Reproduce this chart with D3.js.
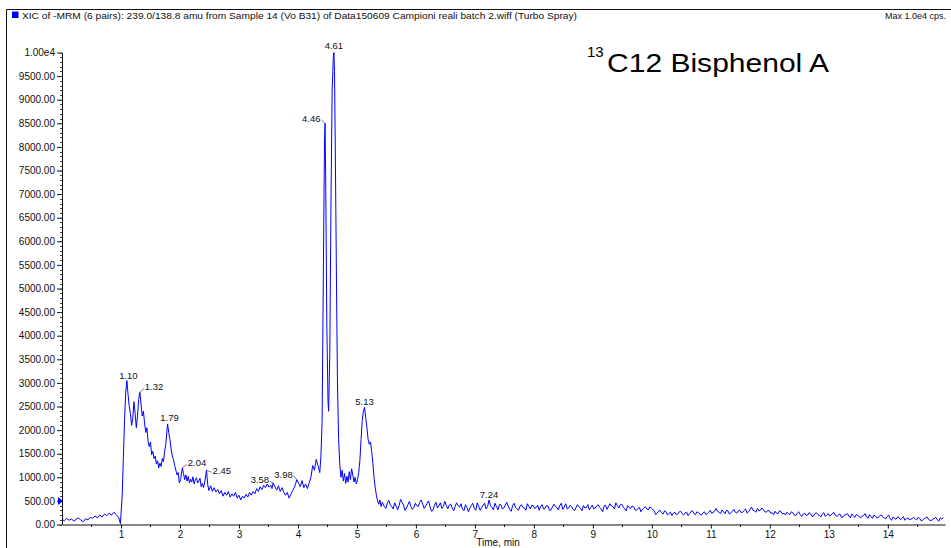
<!DOCTYPE html>
<html><head><meta charset="utf-8">
<script src="https://cdn.jsdelivr.net/npm/d3@7"></script>
<style>
html,body{margin:0;padding:0;background:#fff;}
svg{display:block;font-family:"Liberation Sans",Arial,sans-serif;}
</style></head><body>
<svg id="chart" width="951" height="548"></svg>
<script>
// XIC trace, 239.0/138.8 transition: [retention time (min), intensity (cps)]
const preRise = [[0.00,110],[0.04,80],[0.08,130],[0.12,90],[0.16,120],[0.20,70],[0.24,110],[0.28,140],[0.32,90],[0.36,60],[0.40,120],[0.44,100],[0.48,150],[0.52,130],[0.56,180],[0.60,140],[0.64,200],[0.68,160],[0.72,220],[0.76,190],[0.80,240],[0.84,200],[0.88,260],[0.92,210],[0.96,150],[0.99,20]];

const earlyCluster = [[1.02,600],[1.04,1400],[1.06,2200],[1.08,2800],[1.10,3050],[1.12,2750],[1.14,2500],[1.16,2350],[1.18,2100],[1.20,2250],[1.22,2600],[1.24,2350],[1.26,2050],[1.28,2300],[1.30,2650],[1.32,2800],[1.34,2550],[1.36,2300],[1.38,2400],[1.40,2150],[1.42,1950],[1.44,2050],[1.46,1750],[1.48,1650],[1.50,1750],[1.52,1480],[1.54,1550],[1.56,1400],[1.58,1450],[1.60,1280],[1.62,1350],[1.64,1200],[1.66,1300],[1.68,1230],[1.70,1400],[1.72,1330],[1.74,1550],[1.76,1700],[1.78,2000],[1.79,2130],[1.81,1950],[1.83,1800],[1.85,1600],[1.87,1450],[1.89,1380],[1.91,1250],[1.93,1150],[1.95,1050],[1.97,1100],[1.99,880],[2.01,950],[2.04,1200],[2.06,1080],[2.08,950],[2.10,1050],[2.12,920],[2.14,1020],[2.16,880],[2.18,960],[2.20,900],[2.22,1010],[2.24,860],[2.26,950],[2.28,990],[2.30,880],[2.32,920],[2.34,980],[2.36,800],[2.38,870],[2.40,780],[2.42,900],[2.45,1150],[2.47,850],[2.49,720]];

const midRegion = [[2.52,820],[2.55,700],[2.58,780],[2.61,690],[2.64,740],[2.67,650],[2.70,720],[2.73,600],[2.76,680],[2.79,620],[2.82,700],[2.85,580],[2.88,650],[2.91,600],[2.94,680],[2.97,560],[3.00,620],[3.03,520],[3.06,600],[3.09,560],[3.12,640],[3.15,580],[3.18,680],[3.21,620],[3.24,700],[3.27,650],[3.30,760],[3.33,700],[3.36,800],[3.39,740],[3.42,830],[3.45,780],[3.48,860],[3.51,790],[3.54,830],[3.56,760],[3.58,880],[3.61,800],[3.64,730],[3.67,820],[3.70,700],[3.73,780],[3.76,680],[3.79,620],[3.82,680],[3.85,560],[3.88,640],[3.91,720],[3.94,790],[3.96,860],[3.98,950],[4.01,880],[4.04,800],[4.07,930],[4.10,780],[4.13,860],[4.16,760],[4.19,880],[4.22,1000],[4.25,1250],[4.28,1150],[4.31,1380],[4.34,1250],[4.37,1100],[4.39,1450]];

const mainPeaks = [[4.41,2200],[4.43,5200],[4.45,8100],[4.46,8500],[4.47,7400],[4.49,4200],[4.51,2600],[4.52,2400],[4.54,3600],[4.56,6800],[4.58,9200],[4.60,9900],[4.61,10000],[4.62,9600],[4.63,8400],[4.65,5600],[4.67,3000],[4.69,1800],[4.71,1250]];

const shoulder = [[4.73,1000],[4.75,1150],[4.77,920],[4.79,1080],[4.81,870],[4.83,1020],[4.85,900],[4.87,1120],[4.89,950],[4.91,1180],[4.93,1050],[4.95,900],[4.97,1000],[4.99,860],[5.01,950],[5.03,1100],[5.05,1350],[5.07,1800],[5.09,2200],[5.11,2400],[5.13,2480],[5.15,2250],[5.17,2050],[5.19,1800],[5.21,1700],[5.23,1750],[5.25,1550],[5.27,1300],[5.29,1000],[5.31,780],[5.33,620],[5.35,500],[5.37,430],[5.39,520],[5.41,380],[5.43,470]];

// Late baseline, sampled every 0.025 min from 5.44 min
const tailStart = 5.44, tailStep = 0.025;
const tailValues = [
  440,380,340,450,510,420,380,330,460,390,310,400,530,470,410,300,350,420,490,380,320,360,450,400,380,470,520,430,340,390,450,500,370,280,300,410,470,350,400,460,340,380,490,400,
  330,410,430,350,290,380,460,400,370,440,320,290,420,360,270,350,400,450,340,300,460,380,300,360,410,450,330,380,520,400,360,310,450,380,310,420,420,330,350,410,470,390,320,280,400,450,360,330,300,390,420,360,350,300,440,380,330,410,400,340,
  360,410,300,380,420,330,340,400,390,300,310,370,430,380,360,310,400,450,320,370,440,330,350,410,380,320,300,360,420,380,340,290,400,350,360,420,310,360,410,330,350,390,420,360,330,270,390,410,320,380,440,390,380,330,460,400,350,420,430,370,330,290,400,360,340,390,380,310,300,340,360,270,320,350,380,330,310,370,350,320,
  290,210,240,280,300,250,220,290,270,200,230,260,190,240,260,210,220,270,280,230,200,250,260,190,230,280,290,230,210,270,250,220,200,240,270,210,230,260,300,240,250,290,340,280,260,230,310,270,230,300,290,220,250,280,320,260,240,290,300,250,260,300,330,240,270,320,370,300,290,260,340,290,300,350,320,270,260,300,290,240,
  250,210,280,240,230,290,270,220,240,200,260,230,210,270,250,200,190,240,270,210,170,220,240,190,200,250,230,170,180,230,250,210,190,160,220,250,170,200,230,180,200,240,250,190,170,210,220,150,160,200,210,230,180,140,220,190,150,210,200,160,140,180,190,230,160,130,210,170,130,200,180,140,150,190,200,160,140,120,170,200,
  120,90,160,130,110,160,150,100,130,170,90,120,140,100,110,130,150,120,100,150,130,80,90,120,140,160,110,90,80,120,130,150,100,70,140,110,150];

// Retention times annotated on the trace
const peakLabels = [1.10, 1.32, 1.79, 2.04, 2.45, 3.58, 3.98, 4.46, 4.61, 5.13, 7.24];

// Axis ticks
const yTicks = [0,500,1000,1500,2000,2500,3000,3500,4000,4500,5000,5500,6000,6500,7000,7500,8000,8500,9000,9500,10000];
const yTickLabels = ["0.00","500.00","1000.00","1500.00","2000.00","2500.00","3000.00","3500.00","4000.00","4500.00","5000.00","5500.00","6000.00","6500.00","7000.00","7500.00","8000.00","8500.00","9000.00","9500.00","1.00e4"];
const xTicks = [1,2,3,4,5,6,7,8,9,10,11,12,13,14];

const headerText = "XIC of -MRM (6 pairs): 239.0/138.8 amu from Sample 14 (Vo B31) of Data150609 Campioni reali batch 2.wiff (Turbo Spray)";
const maxText = "Max 1.0e4 cps.";
const axisTitle = "Time, min";

// ---- assemble trace ----
const tail = tailValues.map((v, i) => [Math.round((tailStart + i * tailStep) * 1000) / 1000, v]);
const trace = [].concat(preRise, earlyCluster, midRegion, mainPeaks, shoulder, tail);

const svg = d3.select("#chart");
const ink = "#111";
const traceColor = "#0000ff";

const x = d3.scaleLinear().domain([0, 14.97]).range([62, 945]);
const y = d3.scaleLinear().domain([0, 10000]).range([524.5, 52.5]);

// frame
svg.append("line").attr("x1", 6.5).attr("x2", 951).attr("y1", 9.5).attr("y2", 9.5).attr("stroke", ink);
svg.append("line").attr("x1", 6.5).attr("x2", 6.5).attr("y1", 9.5).attr("y2", 548).attr("stroke", ink);

// header
svg.append("rect").attr("x", 12).attr("y", 11.5).attr("width", 6.5).attr("height", 6.5).attr("fill", "#0000ff");
svg.append("text").attr("x", 22).attr("y", 19).attr("font-size", 9).attr("fill", ink)
  .attr("textLength", 555).attr("lengthAdjust", "spacingAndGlyphs").text(headerText);
svg.append("text").attr("x", 946).attr("y", 19).attr("font-size", 9).attr("fill", ink)
  .attr("text-anchor", "end").text(maxText);

// y axis
const yAxis = svg.append("g").attr("transform", "translate(62,0)")
  .call(d3.axisLeft(y).tickValues(yTicks).tickFormat((d, i) => yTickLabels[i]).tickSize(5).tickSizeOuter(0).tickPadding(2));
yAxis.selectAll("text").attr("font-size", 10).attr("font-family", "Liberation Sans, Arial, sans-serif").attr("fill", ink);
yAxis.selectAll("line,path").attr("stroke", ink);
svg.append("g").selectAll("line").data(d3.range(0, 10001, 100)).join("line")
  .attr("x1", 60).attr("x2", 62).attr("y1", d => Math.round(y(d)) + 0.5).attr("y2", d => Math.round(y(d)) + 0.5)
  .attr("stroke", "#444").attr("stroke-width", 1);

// x axis
const xAxis = svg.append("g").attr("transform", "translate(0,524.5)")
  .call(d3.axisBottom(x).tickValues(xTicks).tickFormat(d3.format("d")).tickSize(4).tickSizeOuter(0).tickPadding(2));
xAxis.selectAll("text").attr("font-size", 10).attr("font-family", "Liberation Sans, Arial, sans-serif").attr("fill", ink);
xAxis.selectAll("line,path").attr("stroke", ink);
svg.append("g").selectAll("line").data(d3.range(0.5, 15, 1)).join("line")
  .attr("x1", d => Math.round(x(d)) + 0.5).attr("x2", d => Math.round(x(d)) + 0.5)
  .attr("y1", 524.5).attr("y2", 527).attr("stroke", ink);
svg.append("text").attr("x", 498).attr("y", 546).attr("text-anchor", "middle")
  .attr("font-size", 10).attr("fill", ink).text(axisTitle);

// threshold marker on the y axis
svg.append("path")
  .attr("d", `M58,${y(500) - 4}L63,${y(500)}L58,${y(500) + 4}Z`)
  .attr("fill", "#0000ff");

// trace
svg.append("path").datum(trace)
  .attr("d", d3.line().x(d => x(d[0])).y(d => y(d[1])))
  .attr("fill", "none").attr("stroke", traceColor).attr("stroke-width", 1);

// retention-time annotations
const labelLayout = {
  "1.10": {anchor: "middle", dx: 1.5, dy: -1.5},
  "1.32": {anchor: "start", dx: 5, dy: -2, leader: true},
  "1.79": {anchor: "middle", dx: 2, dy: -3},
  "2.04": {anchor: "start", dx: 5.5, dy: -1.5, leader: true},
  "2.45": {anchor: "start", dx: 6, dy: 4, leader: true},
  "3.58": {anchor: "end", dx: -4, dy: 0.5, leader: true},
  "3.98": {anchor: "end", dx: -4, dy: -2, leader: true},
  "4.46": {anchor: "end", dx: -4.5, dy: -1, leader: true},
  "4.61": {anchor: "middle", dx: 0, dy: -4},
  "5.13": {anchor: "middle", dx: 0, dy: -2},
  "7.24": {anchor: "middle", dx: 0, dy: -1.5}
};
const labelG = svg.append("g");
peakLabels.forEach(t => {
  const key = t.toFixed(2);
  const pt = trace.find(p => Math.abs(p[0] - t) < 0.005);
  const px = x(pt[0]), py = y(pt[1]);
  const L = labelLayout[key];
  labelG.append("text").attr("x", px + L.dx).attr("y", py + L.dy)
    .attr("text-anchor", L.anchor).attr("font-size", 9.5).attr("fill", ink).text(key);
  if (L.leader) {
    const ex = L.anchor === "start" ? px + L.dx - 1 : px + L.dx + 1;
    labelG.append("line").attr("x1", px).attr("y1", py).attr("x2", ex).attr("y2", py + L.dy - 2)
      .attr("stroke", "#555").attr("stroke-width", 0.8);
  }
});

// compound title with isotope superscript
svg.append("text").attr("x", 587).attr("y", 57).attr("font-size", 15).attr("fill", "#000").text("13");
svg.append("text").attr("x", 607).attr("y", 72).attr("font-size", 26).attr("fill", "#000")
  .attr("textLength", 222).attr("lengthAdjust", "spacingAndGlyphs").text("C12 Bisphenol A");
</script>
</body></html>
